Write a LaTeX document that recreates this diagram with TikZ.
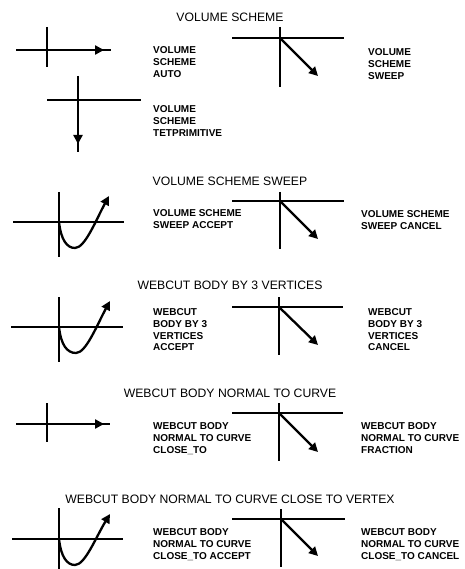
\documentclass[tikz,border=0pt]{standalone}
\usepackage{fontspec}
\setmainfont{Liberation Sans}
\usetikzlibrary{arrows.meta}
\begin{document}
\begin{tikzpicture}[x=1pt,y=-1pt,
  axis/.style={line width=1.2pt,line cap=butt},
  vec/.style={line width=2.3pt,-{Triangle[length=9pt,width=9pt]}},
  ttl/.style={anchor=base,inner sep=0pt,font=\fontsize{12.2}{14}\selectfont},
  lbl/.style={anchor=north west,inner sep=0pt,align=left,font=\fontsize{10}{11.8}\selectfont\bfseries}]
\useasboundingbox (0,0) rectangle (464,569);
\fill[white] (0,0) rectangle (464,569);
% titles
\node[ttl] (t1) at (230,21.3) {VOLUME SCHEME};
\node[ttl] (t2) at (230,185.3) {VOLUME SCHEME SWEEP};
\node[ttl] (t3) at (230,289.3) {WEBCUT BODY BY 3 VERTICES};
\node[ttl] (t4) at (230,397.3) {WEBCUT BODY NORMAL TO CURVE};
\node[ttl] (t5) at (230,503.3) {WEBCUT BODY NORMAL TO CURVE CLOSE TO VERTEX};
% labels
\node[lbl] (l1) at (153,46.4) {VOLUME\\SCHEME\\AUTO};
\node[lbl] (l2) at (153,105.4) {VOLUME\\SCHEME\\TETPRIMITIVE};
\node[lbl] (l3) at (368,48.4) {VOLUME\\SCHEME\\SWEEP};
\node[lbl] (l4) at (153,209.4) {VOLUME SCHEME\\SWEEP ACCEPT};
\node[lbl] (l5) at (361,210.4) {VOLUME SCHEME\\SWEEP CANCEL};
\node[lbl] (l6) at (153,308.4) {WEBCUT\\BODY BY 3\\VERTICES\\ACCEPT};
\node[lbl] (l7) at (368,308.4) {WEBCUT\\BODY BY 3\\VERTICES\\CANCEL};
\node[lbl] (l8) at (153,422.4) {WEBCUT BODY\\NORMAL TO CURVE\\CLOSE\_TO};
\node[lbl] (l9) at (361,422.4) {WEBCUT BODY\\NORMAL TO CURVE\\FRACTION};
\node[lbl] (l10) at (153,528.4) {WEBCUT BODY\\NORMAL TO CURVE\\CLOSE\_TO ACCEPT};
\node[lbl] (l11) at (361,528.4) {WEBCUT BODY\\NORMAL TO CURVE\\CLOSE\_TO CANCEL};
% fig 1: auto
\draw[axis] (16,50) -- (111,50);
\draw[axis] (47,27) -- (47,67);
\draw[vec] (78,50) -- (104,50);
% fig 2: tetprimitive
\draw[axis] (47,100) -- (141,100);
\draw[line width=1.6pt] (78,76) -- (78,152);
\draw[vec] (78,120) -- (78,144);
% fig 3: sweep
\draw[axis] (232,38) -- (344,38);
\draw[axis] (280,27) -- (280,87);
\draw[vec] (280,38) -- (318,76);
% fig 4: sweep accept
\draw[axis] (13,222) -- (124,222);
\draw[axis] (59,192) -- (59,257);
\draw[vec] (59,222) .. controls (61,240) and (67,248) .. (75,248) .. controls (85,248) and (96,220) .. (109,196);
% fig 5: sweep cancel
\draw[axis] (232,201) -- (344,201);
\draw[axis] (280,192) -- (280,249);
\draw[vec] (280,201) -- (318,239);
% fig 6
\draw[axis] (11,327) -- (123,327);
\draw[line width=1.6pt] (11,327) -- (40,327);
\draw[axis] (59,297) -- (59,362);
\draw[vec] (59,327) .. controls (61,345) and (67,353) .. (76,353) .. controls (86,353) and (97,325) .. (110,301);
% fig 7
\draw[axis] (232,307) -- (343,307);
\draw[axis] (279,297) -- (279,355);
\draw[vec] (279,307) -- (318,345);
% fig 8
\draw[axis] (16,424) -- (110,424);
\draw[axis] (47,403) -- (47,442);
\draw[vec] (68,424) -- (104,424);
% fig 9
\draw[axis] (232,413) -- (343,413);
\draw[axis] (279,403) -- (279,461);
\draw[vec] (279,413) -- (318,452);
% fig 10
\draw[axis] (12,539) -- (123,539);
\draw[axis] (59,508) -- (59,569);
\draw[vec] (59,539) .. controls (61,557) and (67,565) .. (75,565) .. controls (85,565) and (96,537) .. (110,514);
% fig 11
\draw[axis] (232,519) -- (345,519);
\draw[axis] (281,509) -- (281,567);
\draw[vec] (281,519) -- (318,556);
\end{tikzpicture}
\end{document}
